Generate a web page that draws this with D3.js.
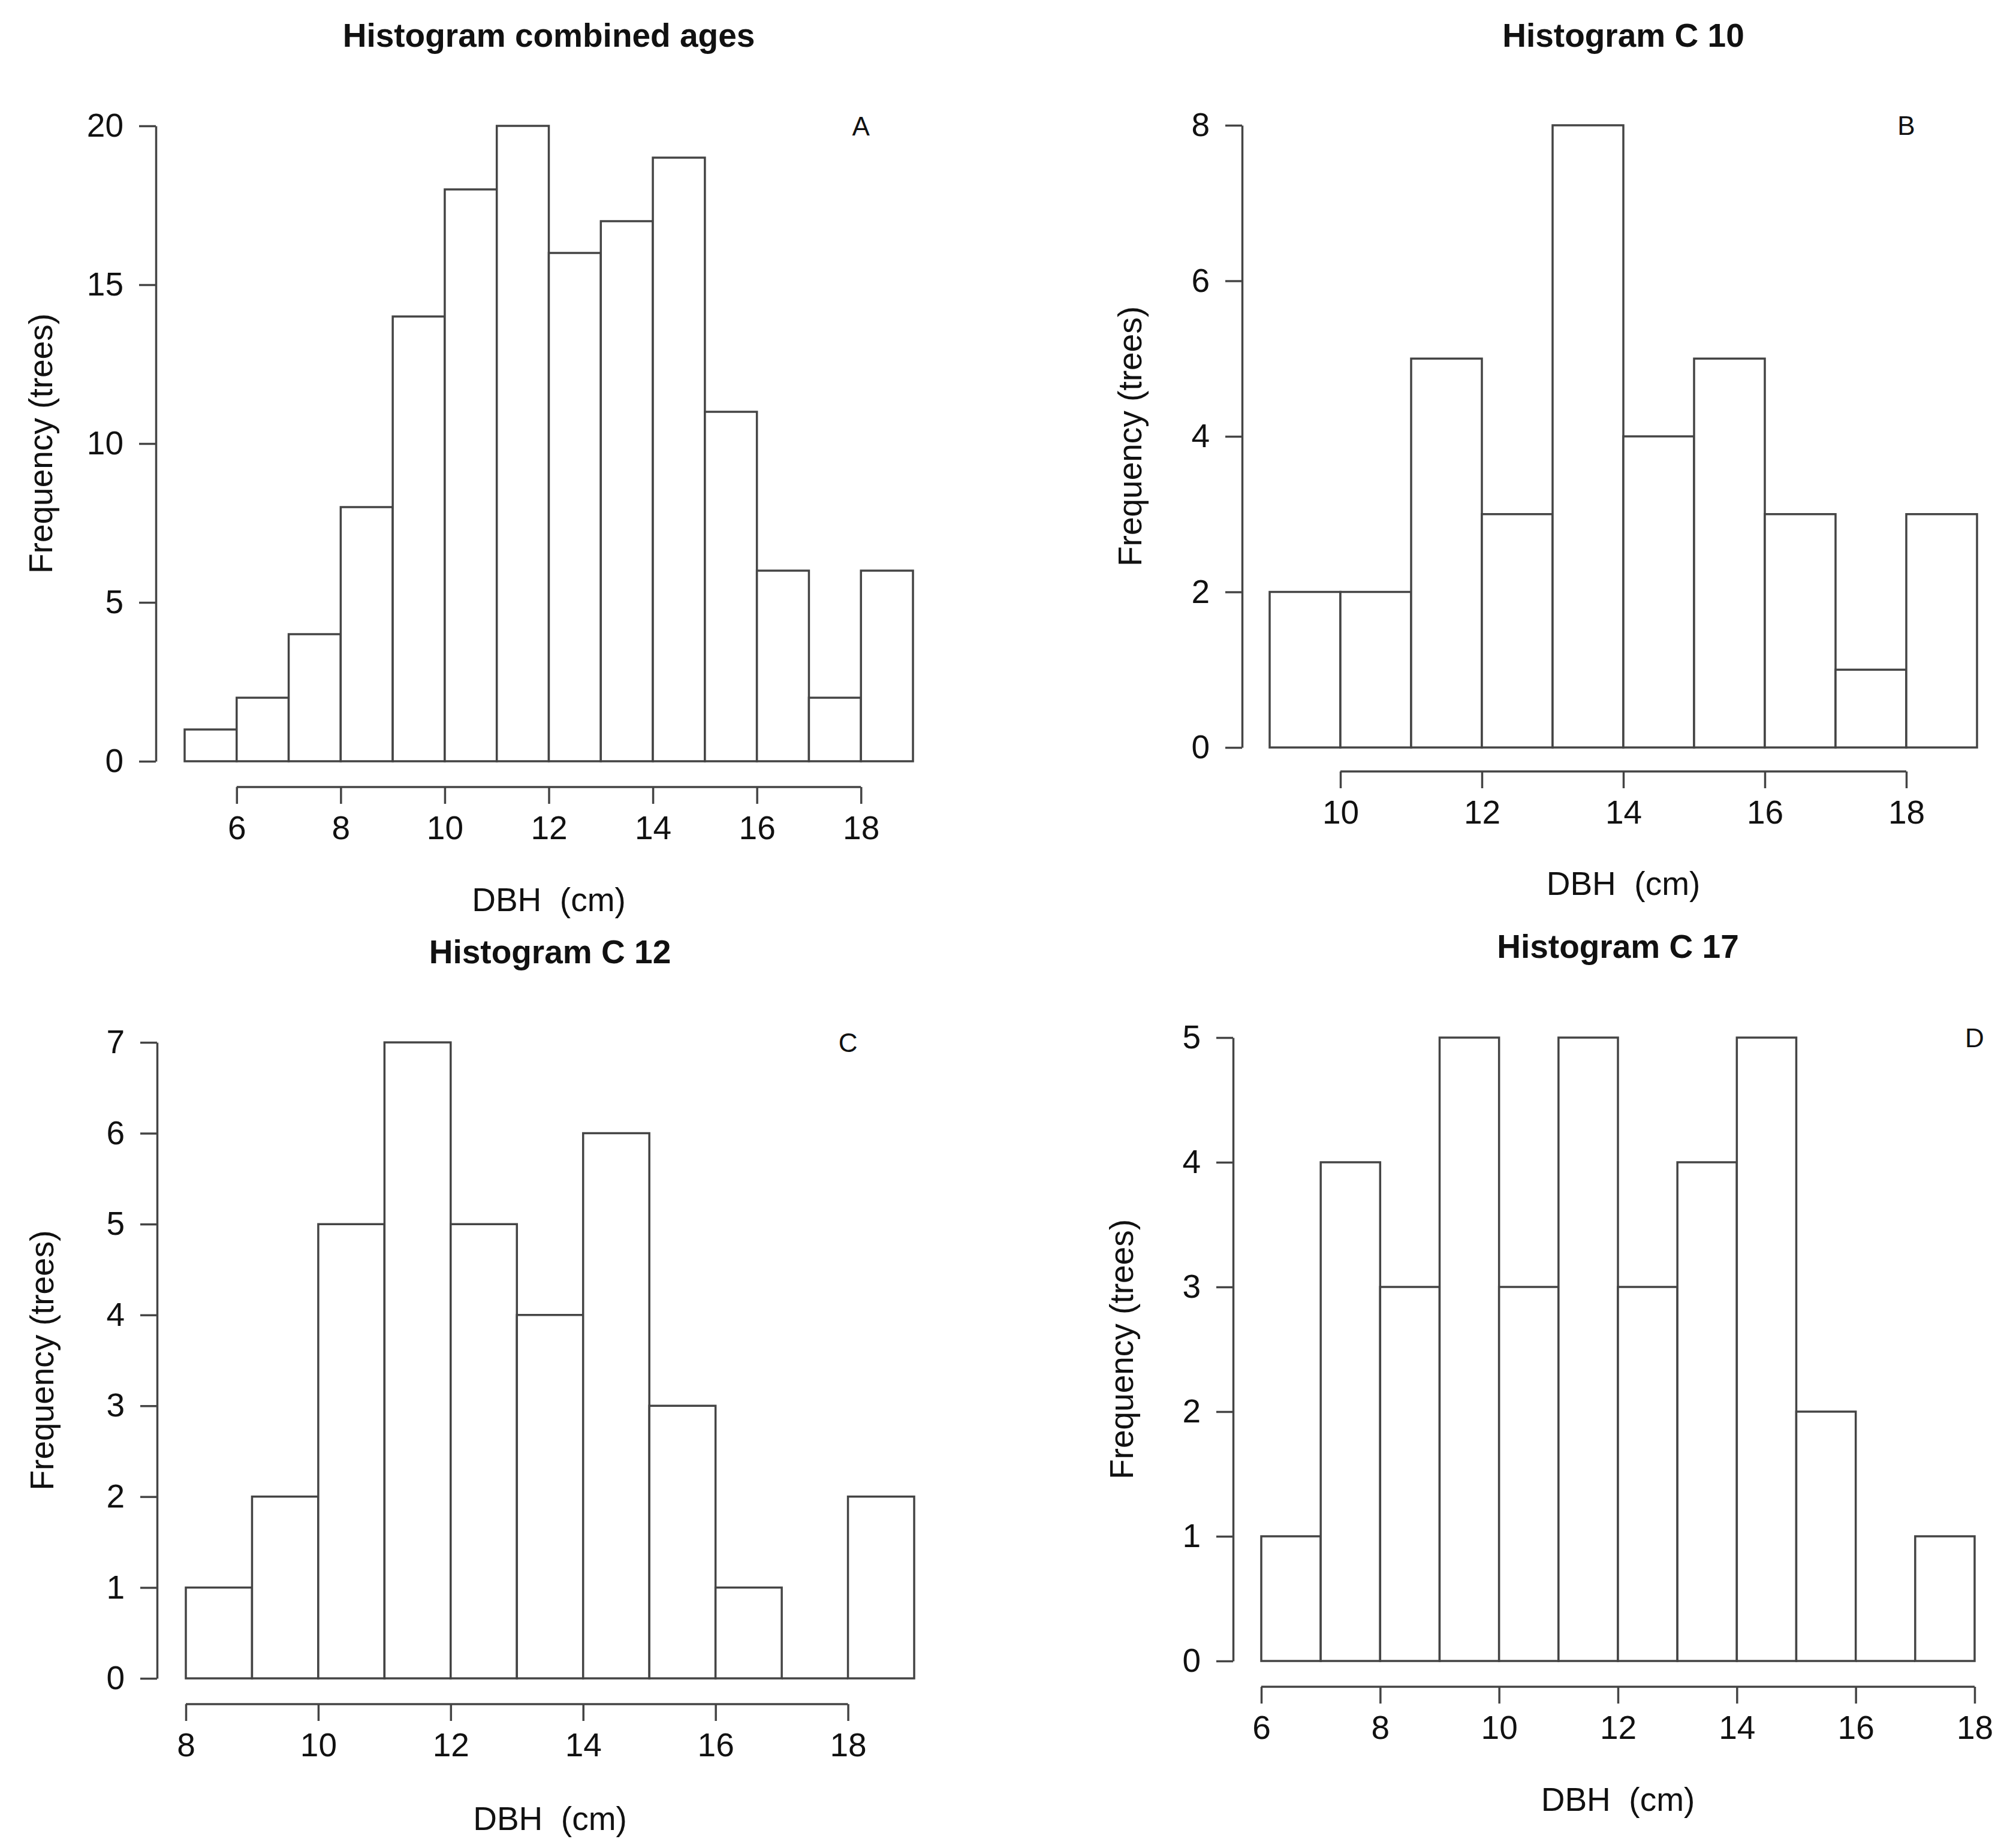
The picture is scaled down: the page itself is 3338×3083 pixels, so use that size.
<!DOCTYPE html>
<html>
<head>
<meta charset="utf-8">
<script src="https://cdn.jsdelivr.net/npm/d3@7"></script>
<style>
  html, body { margin: 0; padding: 0; background: #fff; }
  svg { display: block; font-family: "Liberation Sans", Arial, sans-serif; }
</style>
</head>
<body>
<svg id="chart" width="3338" height="3083"></svg>
<script>
// ── Data: counts per 1 cm DBH bin ──
const binsA = [5, 6, 7, 8, 9, 10, 11, 12, 13, 14, 15, 16, 17, 18];
const countsA = [1, 2, 4, 8, 14, 18, 20, 16, 17, 19, 11, 6, 2, 6];

const binsB = [9, 10, 11, 12, 13, 14, 15, 16, 17, 18];
const countsB = [2, 2, 5, 3, 8, 4, 5, 3, 1, 3];

const binsC = [8, 9, 10, 11, 12, 13, 14, 15, 16, 17, 18];
const countsC = [1, 2, 5, 7, 5, 4, 6, 3, 1, 0, 2];

const binsD = [6, 7, 8, 9, 10, 11, 12, 13, 14, 15, 16, 17];
const countsD = [1, 4, 3, 5, 3, 5, 3, 4, 5, 2, 0, 1];

const titles = ['Histogram combined ages', 'Histogram C 10', 'Histogram C 12', 'Histogram C 17'];
const tags = ['A', 'B', 'C', 'D'];
const xTicksA = [6, 8, 10, 12, 14, 16, 18];
const xTicksB = [10, 12, 14, 16, 18];
const xTicksC = [8, 10, 12, 14, 16, 18];
const xTicksD = [6, 8, 10, 12, 14, 16, 18];
const yTicksA = [0, 5, 10, 15, 20];
const yTicksB = [0, 2, 4, 6, 8];
const yTicksC = [0, 1, 2, 3, 4, 5, 6, 7];
const yTicksD = [0, 1, 2, 3, 4, 5];
const xLabel = 'DBH  (cm)';
const yLabel = 'Frequency (trees)';

// ── Layout (pixel frames of each panel; panels were pasted, not perfectly aligned) ──
const FONT = 55;
const TICK = 28;
const LINE = '#444';
const SW = 3.5;
const panels = [
	{ bins: binsA, counts: countsA, xTicks: xTicksA, yTicks: yTicksA,
	  xr: [308, 1523], yr: [1270, 210], axisX: 260, axisY: 1313,
	  titleY: 58, xLabY: 1500, yLabX: 67 },
	{ bins: binsB, counts: countsB, xTicks: xTicksB, yTicks: yTicksB,
	  xr: [2118, 3298], yr: [1247, 209], axisX: 2072, axisY: 1287,
	  titleY: 58, xLabY: 1473, yLabX: 1884 },
	{ bins: binsC, counts: countsC, xTicks: xTicksC, yTicks: yTicksC,
	  xr: [310, 1525], yr: [2800, 1739], axisX: 262, axisY: 2843,
	  titleY: 1587, xLabY: 3033, yLabX: 69 },
	{ bins: binsD, counts: countsD, xTicks: xTicksD, yTicks: yTicksD,
	  xr: [2104, 3294], yr: [2771, 1731], axisX: 2057, axisY: 2814,
	  titleY: 1578, xLabY: 3001, yLabX: 1870 },
];

const svg = d3.select('#chart');

panels.forEach((p, i) => {
	const g = svg.append('g');
	const x = d3.scaleLinear()
		.domain([p.bins[0], p.bins[p.bins.length - 1] + 1])
		.range(p.xr);
	const y = d3.scaleLinear()
		.domain([0, d3.max(p.yTicks)])
		.range(p.yr);

	// bars as closed paths so empty bins still show their baseline
	g.selectAll('path.bar')
		.data(p.bins.map((b, k) => ({ b, n: p.counts[k] })))
		.join('path')
		.attr('class', 'bar')
		.attr('d', (d) => `M${x(d.b)},${y(0)}V${y(d.n)}H${x(d.b + 1)}V${y(0)}Z`)
		.attr('fill', '#fff')
		.attr('stroke', LINE)
		.attr('stroke-width', SW)
		.attr('stroke-linejoin', 'miter');

	// y axis (R style: line from 0 to max tick, horizontal labels)
	const yAx = g.append('g')
		.attr('transform', `translate(${p.axisX},0)`)
		.call(d3.axisLeft(y).tickValues(p.yTicks).tickFormat(d3.format('d'))
			.tickSize(TICK).tickSizeOuter(0).tickPadding(26));
	yAx.select('.domain').attr('stroke', LINE).attr('stroke-width', SW);
	yAx.selectAll('.tick line').attr('stroke', LINE).attr('stroke-width', SW);
	yAx.selectAll('.tick text').attr('font-size', FONT).attr('fill', '#111')
		.attr('font-family', '"Liberation Sans", Arial, sans-serif');

	// x axis (line only between first and last tick)
	const xAx = g.append('g')
		.attr('transform', `translate(0,${p.axisY})`)
		.call(d3.axisBottom(x).tickValues(p.xTicks).tickFormat(d3.format('d'))
			.tickSize(TICK).tickPadding(20));
	xAx.select('.domain').remove();
	xAx.append('line')
		.attr('x1', x(p.xTicks[0])).attr('x2', x(p.xTicks[p.xTicks.length - 1]))
		.attr('stroke', LINE).attr('stroke-width', SW);
	xAx.selectAll('.tick line').attr('stroke', LINE).attr('stroke-width', SW);
	xAx.selectAll('.tick text').attr('font-size', FONT).attr('fill', '#111')
		.attr('font-family', '"Liberation Sans", Arial, sans-serif');

	const cx = (p.xr[0] + p.xr[1]) / 2;
	const cy = (p.yr[0] + p.yr[1]) / 2;

	g.append('text')
		.attr('x', cx).attr('y', p.titleY)
		.attr('dy', '0.36em')
		.attr('text-anchor', 'middle')
		.attr('font-size', FONT).attr('font-weight', 'bold').attr('fill', '#111')
		.text(titles[i]);

	g.append('text')
		.attr('x', cx).attr('y', p.xLabY)
		.attr('dy', '0.36em')
		.attr('text-anchor', 'middle')
		.attr('font-size', FONT).attr('fill', '#111')
		.style('white-space', 'pre')
		.text(xLabel);

	g.append('text')
		.attr('transform', `translate(${p.yLabX},${cy}) rotate(-90)`)
		.attr('dy', '0.36em')
		.attr('text-anchor', 'middle')
		.attr('font-size', FONT).attr('fill', '#111')
		.text(yLabel);

	// panel tag at (18, max)
	g.append('text')
		.attr('x', x(18)).attr('y', y(d3.max(p.yTicks)))
		.attr('dy', '0.36em')
		.attr('text-anchor', 'middle')
		.attr('font-size', 44).attr('fill', '#111')
		.text(tags[i]);
});
</script>
</body>
</html>
